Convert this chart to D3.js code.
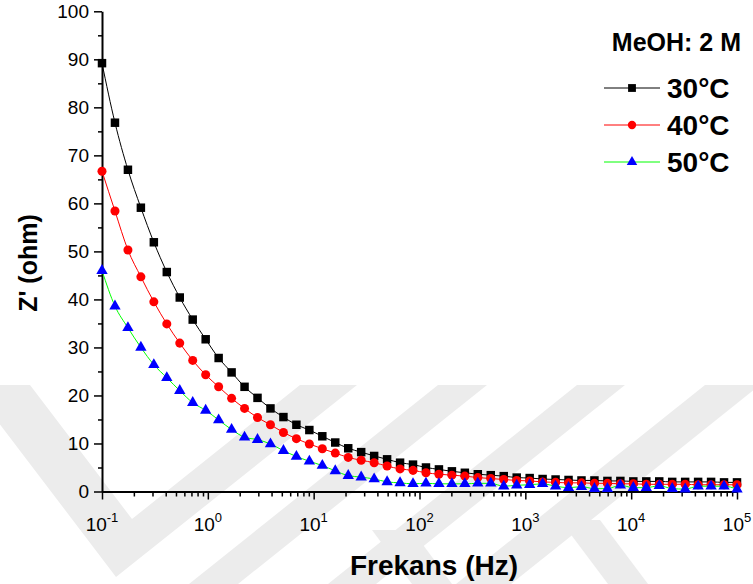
<!DOCTYPE html>
<html>
<head>
<meta charset="utf-8">
<script src="https://cdn.jsdelivr.net/npm/d3@7"></script>
<style>
  body { margin: 0; background: #fff; }
  text { font-family: Arial, "Liberation Sans", sans-serif; }
</style>
</head>
<body>
<svg id="chart" width="753" height="584"></svg>
<script>
// Measurement frequencies (Hz), log-spaced from 0.1 Hz to 100 kHz
const freqHz = [0.1, 0.1326, 0.1758, 0.2330, 0.3089, 0.4095, 0.5429, 0.7197, 0.9541, 1.265,
  1.677, 2.223, 2.947, 3.907, 5.180, 6.867, 9.103, 12.07, 16.00, 21.21,
  28.12, 37.28, 49.42, 65.51, 86.85, 115.1, 152.6, 202.4, 268.3, 355.6,
  471.5, 625.1, 828.6, 1099, 1456, 1931, 2560, 3393, 4498, 5964,
  7906, 10481, 13895, 18421, 24421, 32375, 42920, 56899, 75431, 100000];

// Real impedance Z' (ohm) at each temperature
const z30 = [89.2, 76.8, 67.0, 59.1, 51.9, 45.7, 40.4, 35.8, 31.7, 27.8,
  24.8, 21.8, 19.5, 17.3, 15.5, 13.9, 12.8, 11.5, 10.2, 9.0,
  8.2, 7.4, 6.7, 6.0, 5.6, 5.0, 4.6, 4.2, 3.9, 3.6,
  3.4, 3.2, 2.9, 2.8, 2.6, 2.5, 2.4, 2.3, 2.3, 2.2,
  2.2, 2.1, 2.1, 2.1, 2.0, 2.0, 2.0, 2.0, 1.9, 1.9];
const z40 = [66.7, 58.4, 50.3, 44.7, 39.5, 34.9, 30.9, 27.3, 24.3, 21.8,
  19.4, 17.3, 15.4, 13.9, 12.3, 11.0, 9.9, 8.9, 8.0, 7.1,
  6.5, 6.0, 5.3, 4.7, 4.4, 3.9, 3.6, 3.4, 3.2, 2.9,
  2.7, 2.5, 2.3, 2.2, 2.0, 1.9, 1.8, 1.8, 1.7, 1.7,
  1.6, 1.6, 1.5, 1.5, 1.5, 1.5, 1.4, 1.4, 1.4, 1.4];
const z50 = [46.0, 38.6, 34.1, 30.0, 26.4, 23.7, 21.0, 18.5, 16.9, 14.9,
  12.9, 11.3, 10.8, 9.9, 8.5, 7.3, 6.3, 5.4, 4.3, 3.3,
  3.0, 2.6, 2.0, 1.8, 1.6, 1.7, 1.6, 1.6, 1.6, 1.7,
  1.7, 1.1, 1.3, 1.4, 1.6, 1.1, 0.8, 1.0, 0.6, 0.6,
  1.3, 0.8, 0.8, 1.2, 0.6, 0.5, 1.1, 1.1, 1.1, 0.5];

const seriesNames = ["30°C", "40°C", "50°C"];
const legendTitle = "MeOH: 2 M";
const yTickValues = [0, 10, 20, 30, 40, 50, 60, 70, 80, 90, 100];
const xTickExponents = [-1, 0, 1, 2, 3, 4, 5];
const xTitle = "Frekans (Hz)";
const yTitle = "Z' (ohm)";

const svg = d3.select("#chart");
svg.append("rect").attr("width", 753).attr("height", 584).attr("fill", "#fff");

// Faint background watermark
const wm = svg.append("g").attr("fill", "#ececec");
const wmShapes = [
  [[-30, 385], [30, 385], [132, 519], [300, 385], [357, 385], [116, 577]],
  [[438, 385], [487, 385], [238, 584], [189, 584]],
  [[577, 385], [625, 385], [376, 584], [328, 584]],
  [[705, 385], [760, 385], [511, 584], [456, 584]],
  [[372, 530], [412, 530], [452, 584], [412, 584]],
  [[560, 520], [600, 520], [648, 584], [608, 584]]
];
wmShapes.forEach(p => wm.append("polygon").attr("points", p.map(q => q.join(",")).join(" ")));

const x = d3.scaleLog().domain([0.1, 1e5]).range([102, 737]);
const y = d3.scaleLinear().domain([0, 100]).range([491.5, 11.3]);

// Y axis: major ticks every 10, minor ticks at the fives
const yMinor = d3.range(5, 100, 10);
const yAxisG = svg.append("g").attr("transform", "translate(102,0)");
yAxisG.call(d3.axisLeft(y).tickValues(yMinor).tickSize(4).tickSizeOuter(0).tickFormat(""));
yAxisG.call(g => g.selectAll(".domain").remove());
const yMajorG = svg.append("g").attr("transform", "translate(102,0)");
yMajorG.call(d3.axisLeft(y).tickValues(yTickValues).tickSize(8).tickSizeOuter(0).tickPadding(5));
yMajorG.selectAll("text").attr("font-size", 19).attr("fill", "#000").attr("font-family", "Arial, 'Liberation Sans', sans-serif");
svg.selectAll("g line").attr("stroke-width", 1.5).attr("stroke", "#000");
yMajorG.select(".domain").attr("stroke-width", 2).attr("stroke", "#000");

// X axis: decade ticks plus 2..9 minor ticks
const xMinor = [];
xTickExponents.slice(0, -1).forEach(e => { for (let m = 2; m <= 9; m++) xMinor.push(m * Math.pow(10, e)); });
const xMajor = xTickExponents.map(e => Math.pow(10, e));
const xMinorG = svg.append("g").attr("transform", "translate(0,491.5)");
xMinorG.call(d3.axisBottom(x).tickValues(xMinor).tickSize(5).tickSizeOuter(0).tickFormat(""));
xMinorG.select(".domain").remove();
const xMajorG = svg.append("g").attr("transform", "translate(0,491.5)");
xMajorG.call(d3.axisBottom(x).tickValues(xMajor).tickSize(8).tickSizeOuter(0).tickFormat(""));
xMajorG.select(".domain").attr("stroke-width", 2).attr("stroke", "#000");
svg.selectAll("g.tick line").attr("stroke-width", 1.5).attr("stroke", "#000");

// Decade labels drawn as 10 with a superscript exponent
xTickExponents.forEach(e => {
  const t = svg.append("text")
    .attr("x", x(Math.pow(10, e)))
    .attr("y", 531)
    .attr("text-anchor", "middle")
    .attr("font-size", 19)
    .attr("fill", "#000");
  t.append("tspan").text("10");
  t.append("tspan").attr("dy", -9).attr("font-size", 13).text(e);
});

// Axis titles
svg.append("text")
  .attr("x", 434).attr("y", 575)
  .attr("text-anchor", "middle")
  .attr("font-size", 28).attr("font-weight", "bold")
  .text(xTitle);
svg.append("text")
  .attr("transform", "translate(37,263) rotate(-90)")
  .attr("text-anchor", "middle")
  .attr("font-size", 25).attr("font-weight", "bold")
  .text(yTitle);

// Series
const series = [
  { name: seriesNames[0], values: z30, line: "#000000", fill: "#000000", symbol: d3.symbolSquare, size: 72 },
  { name: seriesNames[1], values: z40, line: "#ff0000", fill: "#ff0000", symbol: d3.symbolCircle, size: 64 },
  { name: seriesNames[2], values: z50, line: "#00ff00", fill: "#0000ff", symbol: d3.symbolTriangle, size: 56 }
];

const lineGen = d3.line()
  .x(d => x(d[0]))
  .y(d => y(d[1]))
  .curve(d3.curveMonotoneX);

series.forEach(s => {
  const pts = freqHz.map((f, i) => [f, s.values[i]]);
  svg.append("path")
    .attr("d", lineGen(pts))
    .attr("fill", "none")
    .attr("stroke", s.line)
    .attr("stroke-width", 1);
  svg.append("g").selectAll("path")
    .data(pts)
    .join("path")
    .attr("transform", d => `translate(${x(d[0])},${y(d[1])})`)
    .attr("d", d3.symbol().type(s.symbol).size(s.size))
    .attr("fill", s.fill);
});

// Legend
svg.append("text")
  .attr("x", 741).attr("y", 51)
  .attr("text-anchor", "end")
  .attr("font-size", 25).attr("font-weight", "bold")
  .text(legendTitle);
series.forEach((s, i) => {
  const ly = 88 + i * 37;
  svg.append("line")
    .attr("x1", 604).attr("x2", 660)
    .attr("y1", ly).attr("y2", ly)
    .attr("stroke", s.line).attr("stroke-width", 1);
  svg.append("path")
    .attr("transform", `translate(632,${ly})`)
    .attr("d", d3.symbol().type(s.symbol).size(s.size * 0.85))
    .attr("fill", s.fill);
  svg.append("text")
    .attr("x", 667).attr("y", ly + 10)
    .attr("font-size", 28).attr("font-weight", "bold")
    .text(s.name);
});
</script>
</body>
</html>
